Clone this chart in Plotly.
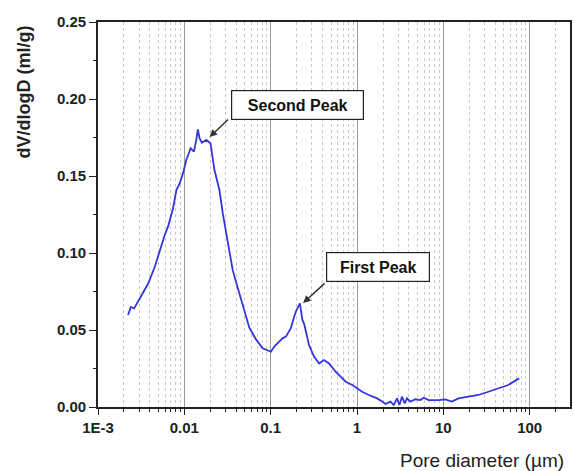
import math
import plotly.graph_objects as go

# Pore diameter (µm) and dV/dlogD (ml/g)
pore_diameter = [
    0.00223, 0.00240, 0.00262, 0.00305, 0.00380, 0.00454, 0.00519, 0.00593,
    0.00647, 0.00740, 0.00809, 0.00883, 0.00964, 0.01054, 0.01183, 0.01292,
    0.01374, 0.01436, 0.0150, 0.01596, 0.01795, 0.0201, 0.0223, 0.0255,
    0.0279, 0.0305, 0.0333, 0.0364, 0.0415, 0.0497, 0.0566, 0.0676,
    0.0807, 0.1007, 0.110, 0.1256, 0.137, 0.150, 0.171, 0.187,
    0.196, 0.218, 0.233, 0.244, 0.279, 0.318, 0.364, 0.415,
    0.474, 0.566, 0.740, 0.881, 1.148, 1.371, 1.711, 1.953,
    2.138, 2.442, 2.666, 2.909, 3.099, 3.321, 3.566, 3.793,
    4.150, 4.742, 5.417, 5.912, 6.75, 8.81, 10.5, 12.5,
    15.0, 19.5, 25.5, 33.2, 43.3, 56.5, 75.7,
]
dv_dlogd = [
    0.0597, 0.0650, 0.0640, 0.0706, 0.0800, 0.0909, 0.1019, 0.1117,
    0.1171, 0.1290, 0.1409, 0.1452, 0.1517, 0.1604, 0.1680, 0.1658,
    0.1734, 0.1803, 0.1745, 0.1716, 0.1734, 0.1713, 0.1540, 0.1409,
    0.1255, 0.1126, 0.1017, 0.0887, 0.0775, 0.0623, 0.0515, 0.0439,
    0.0381, 0.0359, 0.0392, 0.0424, 0.0446, 0.0457, 0.0510, 0.0586,
    0.0620, 0.0673, 0.0565, 0.0540, 0.0400, 0.0327, 0.0283, 0.0305,
    0.0283, 0.0229, 0.0164, 0.0143, 0.0099, 0.0078, 0.0056, 0.0035,
    0.0019, 0.0035, 0.0013, 0.0056, 0.0013, 0.0067, 0.0024, 0.0056,
    0.0035, 0.0050, 0.0045, 0.0060, 0.0045, 0.0045, 0.0050, 0.0035,
    0.0056, 0.0067, 0.0078, 0.0099, 0.0120, 0.0143, 0.0186,
]

x_tick_vals = [0.001, 0.01, 0.1, 1, 10, 100]
x_tick_text = ["1E-3", "0.01", "0.1", "1", "10", "100"]
x_minor_vals = [m * d for d in [0.001, 0.01, 0.1, 1, 10, 100] for m in range(2, 10) if m * d < 300]

peak_labels = ["Second Peak", "First Peak"]
peak_points_x = [0.0196, 0.2377]
peak_points_y = [0.1753, 0.0675]
label_pos_x = [0.2056, 1.742]
label_pos_y = [0.1964, 0.0909]

fig = go.Figure()
fig.add_trace(go.Scatter(
    x=pore_diameter, y=dv_dlogd, mode="lines",
    line=dict(color="#3535dd", width=1.8), showlegend=False,
))

tickfont = dict(family="Liberation Sans, Arial", size=15, color="#222", weight="bold")

fig.update_xaxes(
    type="log", range=[-3, 2.467],
    tickmode="array", tickvals=x_tick_vals, ticktext=x_tick_text,
    ticks="outside", ticklen=6, tickwidth=1.3, tickcolor="#222",
    showline=True, linecolor="#222", linewidth=1.6, mirror=True,
    showgrid=True, gridcolor="#999", gridwidth=1.2,
    tickfont=tickfont, zeroline=False,
    minor=dict(tickmode="array", tickvals=x_minor_vals, ticks="outside", ticklen=3,
               tickcolor="#222", showgrid=True, gridcolor="#c8c8c8", griddash="dot", gridwidth=1),
)
fig.update_yaxes(
    range=[0, 0.25], dtick=0.05, tick0=0, tickformat=".2f",
    ticks="outside", ticklen=7, tickwidth=1.3, tickcolor="#222",
    showline=True, linecolor="#222", linewidth=1.6, mirror=True,
    showgrid=False, zeroline=False, tickfont=tickfont,
    minor=dict(dtick=0.025, ticks="outside", ticklen=3, tickcolor="#222", showgrid=False),
)

annotations = []
for lab, lx, ly, w in zip(peak_labels, label_pos_x, label_pos_y, [127, 98]):
    annotations.append(dict(
        x=math.log10(lx), y=ly, xref="x", yref="y", text=lab, showarrow=False,
        font=dict(family="Liberation Sans, Arial", size=16, color="#111", weight="bold"),
        bgcolor="white", bordercolor="#222", borderwidth=1.2, borderpad=2,
        width=w, height=24, xanchor="center", yanchor="middle",
    ))

# arrows from the lower-left corner of each box to the peak
arrow_off = [(20, -19), (23, -21)]
for px, py, (ax, ay) in zip(peak_points_x, peak_points_y, arrow_off):
    annotations.append(dict(
        x=math.log10(px), y=py, xref="x", yref="y", text="", showarrow=True,
        ax=ax, ay=ay, axref="pixel", ayref="pixel",
        arrowhead=2, arrowsize=1, arrowwidth=1.5, arrowcolor="#333",
    ))

annotations.append(dict(
    x=-0.156, y=0.818, xref="paper", yref="paper", text="dV/dlogD (ml/g)",
    textangle=-90, showarrow=False, xanchor="center", yanchor="middle",
    font=dict(family="Liberation Sans, Arial", size=18, color="#222", weight="bold"),
))
annotations.append(dict(
    x=0.814, y=-0.138, xref="paper", yref="paper", text="Pore diameter (µm)",
    showarrow=False, xanchor="center", yanchor="middle",
    font=dict(family="Liberation Sans, Arial", size=19, color="#222"),
))

fig.update_layout(
    width=574, height=471,
    margin=dict(l=98, r=2, t=22, b=64),
    paper_bgcolor="white", plot_bgcolor="white",
    annotations=annotations,
)

fig.write_html("out.html")
